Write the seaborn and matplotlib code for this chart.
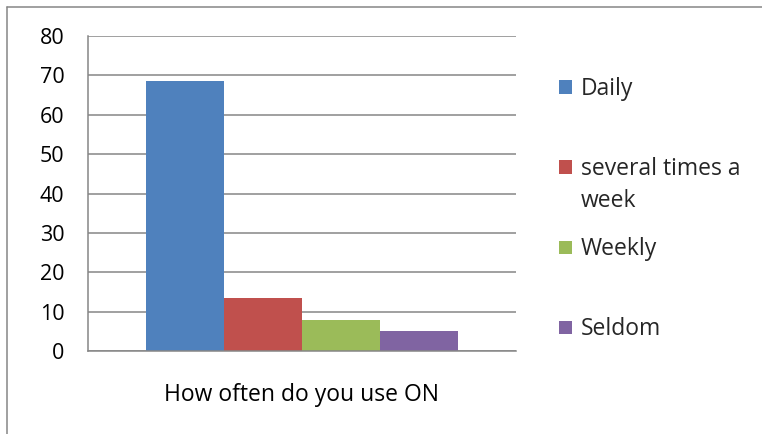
import matplotlib
matplotlib.use("Agg")
import matplotlib.pyplot as plt
import pandas as pd
import seaborn as sns
from matplotlib.lines import Line2D
from matplotlib.patches import Rectangle

category = ["How often do you use ON"]
frequencies = ["Daily", "several times a\nweek", "Weekly", "Seldom"]
percentages = [68.5, 13.5, 7.9, 5.1]
colors = ["#4F81BD", "#C0504D", "#9BBB59", "#8064A2"]
y_ticks = [0, 10, 20, 30, 40, 50, 60, 70, 80]

df = pd.DataFrame({
  "question": category * len(frequencies),
  "frequency": frequencies,
  "percent": percentages,
})

sns.set_style("white")
plt.rcParams["font.family"] = ["Open Sans", "DejaVu Sans"]
grid_color = "#868686"
W, H = 762, 434

fig = plt.figure(figsize=(W / 100, H / 100), dpi=100)
ax = fig.add_axes([88 / W, 1 - 351 / H, (516 - 88) / W, (351 - 36) / H])

sns.barplot(
  data=df, x="question", y="percent", hue="frequency",
  hue_order=frequencies, palette=colors, width=0.727,
  saturation=1, ax=ax, legend=False,
)
for patch in ax.patches:
  patch.set_edgecolor("none")

ax.set_xlim(-0.5, 0.5)
ax.set_ylim(0, 80)
ax.set_yticks(y_ticks)
ax.yaxis.grid(True, color=grid_color, linewidth=1.1)
ax.set_axisbelow(True)
ax.set_xlabel("")
ax.set_ylabel("")

for side in ["top", "right"]:
  ax.spines[side].set_visible(False)
for side in ["left", "bottom"]:
  ax.spines[side].set_color(grid_color)
  ax.spines[side].set_linewidth(1.1)

ax.tick_params(axis="y", length=6, width=1.1, color=grid_color, labelsize=15.5, pad=11, labelcolor="black")
ax.tick_params(axis="x", which="major", length=0, labelsize=16.5, pad=23, labelcolor="black")
ax.set_xticks([-0.5, 0.5], minor=True)
ax.tick_params(axis="x", which="minor", length=5, width=1.1, color=grid_color)

# legend laid out like the spreadsheet: one slot per entry, square beside the first line
for i, (label, color) in enumerate(zip(frequencies, colors)):
  y_mid = 87 + 80 * i
  fig.add_artist(Rectangle((559 / W, 1 - (y_mid + 6.5) / H), 13 / W, 13 / H, color=color, linewidth=0))
  fig.text(581 / W, 1 - (y_mid - 10) / H, label, fontsize=16.5, va="top", ha="left", linespacing=1.42)

# chart frame (top and left edges)
fig.add_artist(Line2D([7 / W, 1], [1 - 7 / H, 1 - 7 / H], color=grid_color, linewidth=1.1))
fig.add_artist(Line2D([7 / W, 7 / W], [0, 1 - 7 / H], color=grid_color, linewidth=1.1))

fig.savefig("out.png", dpi=100)
